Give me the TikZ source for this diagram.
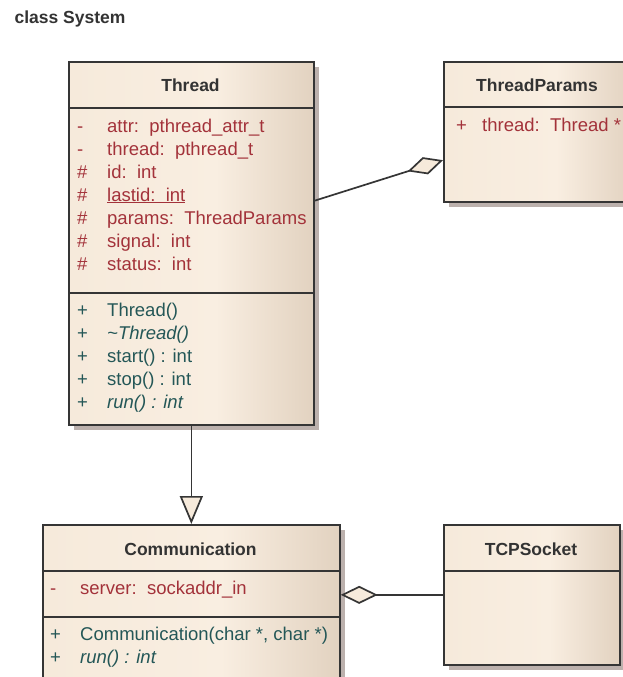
\documentclass[tikz,border=0pt]{standalone}
\usepackage{fontspec}
\setmainfont{Liberation Sans}
\usetikzlibrary{arrows.meta,shadows,calc}

\definecolor{boxa}{HTML}{F6EADB}
\definecolor{boxb}{HTML}{F9EEE1}
\definecolor{boxc}{HTML}{E2D2C0}
\definecolor{shadowc}{HTML}{BCB1AD}
\definecolor{attrc}{HTML}{A3323A}
\definecolor{opc}{HTML}{245757}
\definecolor{headc}{HTML}{333333}
\definecolor{linec}{HTML}{353535}
\pgfdeclarehorizontalshading{umlshade}{100bp}{color(0bp)=(boxa); color(25bp)=(boxa); color(55bp)=(boxb); color(75bp)=(boxc); color(100bp)=(boxc)}

\tikzset{
  umlclass/.style={draw=linec, line width=1.7pt, shade, shading=umlshade, anchor=north west, inner sep=0pt,
    drop shadow={shadow xshift=5pt, shadow yshift=-5pt, fill=shadowc, opacity=1}},
  sep/.style={draw=linec, line width=1.7pt},
  head/.style={anchor=base, text=headc, font=\fontsize{17.5}{17.5}\selectfont\bfseries},
  attr/.style={anchor=base west, inner sep=0pt, text=attrc, font=\fontsize{18.5}{18.5}\selectfont},
  oper/.style={attr, text=opc},
  inherit/.style={draw=linec, line width=1.7pt, -{Triangle[length=28pt, width=23pt, fill=boxa]}},
  aggr/.style={draw=linec, line width=1.7pt, -{Diamond[length=37pt, width=18pt, fill=boxa]}}
}

\begin{document}
\begin{tikzpicture}[x=1pt, y=-1pt]

    \path[use as bounding box, fill=white] (0,0) rectangle (623,677);

    \node[head, anchor=base west] (title) at (11,24) {class System};

    % classes
    \node[umlclass, minimum width=245pt, minimum height=363pt] (thread) at (68,61) {};
    \node[umlclass, minimum width=188pt, minimum height=140pt] (params) at (443,61) {};
    \node[umlclass, minimum width=297pt, minimum height=170pt] (comm) at (42,524) {};
    \node[umlclass, minimum width=176pt, minimum height=140pt] (tcp) at (443,524) {};

    \draw[sep] (thread.west |- 0,108) -- (thread.east |- 0,108);
    \draw[sep] (thread.west |- 0,293) -- (thread.east |- 0,293);
    \draw[sep] (params.west |- 0,107) -- (params.east |- 0,107);
    \draw[sep] (comm.west |- 0,571) -- (comm.east |- 0,571);
    \draw[sep] (comm.west |- 0,617) -- (comm.east |- 0,617);
    \draw[sep] (tcp.west |- 0,571) -- (tcp.east |- 0,571);

    % Thread
    \node[head] (threadname) at (190.5,92) {Thread};
    \foreach \v/\t [count=\i from 0] in {-/attr:~~pthread\_attr\_t, -/thread:~~pthread\_t, \#/id:~~int,
        \#/\underline{lastid:~~int}, \#/params:~~ThreadParams, \#/signal:~~int, \#/status:~~int}
    {
        \node[attr] (thv\i) at (77,132+23*\i) {\v};
        \node[attr] (tha\i) at (107,132+23*\i) {\t};
    }
    \foreach \t [count=\i from 0] in {Thread(), \textit{\textasciitilde Thread()}, start() : int,
        stop() : int, \textit{run() : int}}
    {
        \node[oper] (thw\i) at (77,316+23*\i) {+};
        \node[oper] (tho\i) at (107,316+23*\i) {\t};
    }

    % ThreadParams
    \node[head] (paramsname) at (537,92) {ThreadParams};
    \node[attr] (pav) at (456,131) {+};
    \node[attr] (paa) at (482,131) {thread:~~Thread *};

    % Communication
    \node[head] (commname) at (190.5,555) {Communication};
    \node[attr] (cov) at (50,594) {-};
    \node[attr] (coa) at (80,594) {server:~~sockaddr\_in};
    \node[oper] (cow0) at (50,640) {+};
    \node[oper] (coo0) at (80,640) {Communication(char *, char *)};
    \node[oper] (cow1) at (50,663) {+};
    \node[oper] (coo1) at (80,663) {\textit{run() : int}};

    % TCPSocket
    \node[head] (tcpname) at (531,555) {TCPSocket};

    \draw[inherit] (thread.south) -- (comm.north);
    \draw[aggr] ($(thread.north east)!0.383!(thread.south east)$) -- ($(params.north west)!0.7!(params.south west)$);
    \draw[aggr] (tcp.west) -- (tcp.west -| comm.east);

\end{tikzpicture}
\end{document}
